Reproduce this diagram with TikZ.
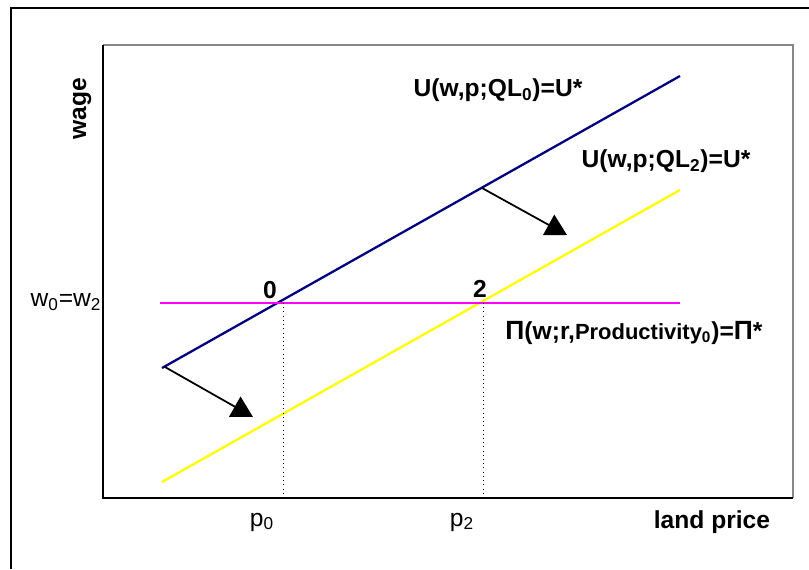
\documentclass[tikz,border=0pt]{standalone}
\usepackage{fontspec}
\setmainfont{Liberation Sans}
\usetikzlibrary{arrows.meta}
\definecolor{navyline}{RGB}{0,0,128}
\definecolor{framegray}{RGB}{136,136,136}
\definecolor{profitline}{RGB}{255,0,255}
\definecolor{shiftline}{RGB}{255,255,0}
\begin{document}
\begin{tikzpicture}[x=0.02cm,y=-0.02cm,
  curve/.style={line width=1.3pt},
  shiftarrow/.style={-{Triangle[length=0.42cm,width=0.46cm]}, line width=1pt},
  boldlbl/.style={font=\fontsize{14}{16}\selectfont\bfseries, inner sep=0pt},
  plainlbl/.style={font=\fontsize{14}{16}\selectfont, inner sep=0pt}]
 \useasboundingbox (0,0) rectangle (809,569);
 % outer frame
 \draw[line width=1.6pt] (11,569) -- (11,8) -- (809,8);
 % plot box
 \draw[framegray, line width=1.3pt] (103,45) -- (793,45) -- (793,498);
 \draw[line width=1pt] (103,45) -- (103,498) -- (793,498);
 % curves
 \coordinate (uzeroA) at (162,368);
 \coordinate (uzeroB) at (680,76);
 \coordinate (utwoA) at (162,482);
 \coordinate (utwoB) at (680,190);
 \coordinate (profA) at (160,303);
 \coordinate (profB) at (680,303);
 \draw[curve, navyline] (uzeroA) -- (uzeroB);
 \draw[curve, shiftline] (utwoA) -- (utwoB);
 \draw[curve, profitline] (profA) -- (profB);
 % equilibria
 \coordinate (eqzero) at (283,303);
 \coordinate (eqtwo) at (483,303);
 \draw[dotted] (eqzero) -- (eqzero |- 0,498);
 \draw[dotted] (eqtwo) -- (eqtwo |- 0,498);
 \node[boldlbl] (zero) at (270,290) {0};
 \node[boldlbl] (two) at (480,289) {2};
 % shifts
 \coordinate (shiftlowA) at (165,367);
 \coordinate (shiftlowB) at (253,417);
 \coordinate (shifthighA) at (482,188);
 \coordinate (shifthighB) at (567,235);
 \draw[shiftarrow] (shiftlowA) -- (shiftlowB);
 \draw[shiftarrow] (shifthighA) -- (shifthighB);
 % labels
 \node[boldlbl, rotate=90] (wage) at (82,109) {wage};
 \node[plainlbl] (wlevel) at (66,302) {w\textsubscript{0}=w\textsubscript{2}};
 \node[boldlbl] (uzero) at (498,90) {U(w,p;QL\textsubscript{0})=U*};
 \node[boldlbl] (utwo) at (666,161) {U(w,p;QL\textsubscript{2})=U*};
 \node[boldlbl] (profit) at (634,333) {{\fontsize{15}{17}\selectfont Π}(w;r,{\fontsize{12.5}{14}\selectfont Productivity\textsubscript{0}})={\fontsize{15}{17}\selectfont Π}*};
 \node[plainlbl] (pzero) at (262,522) {p\textsubscript{0}};
 \node[plainlbl] (ptwo) at (462,522) {p\textsubscript{2}};
 \node[boldlbl] (landprice) at (712,522) {land price};
\end{tikzpicture}
\end{document}
